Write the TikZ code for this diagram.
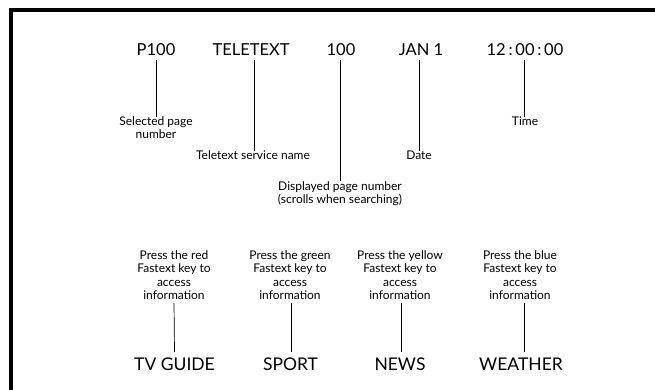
\documentclass[tikz,border=0pt]{standalone}
\usepackage{fontspec}
\setmainfont{Lato}
\begin{document}
\begin{tikzpicture}[x=1pt,y=-1pt,
  toptext/.style={inner sep=0pt,anchor=base,font=\fontsize{16.5}{18}\selectfont},
  lbl/.style={inner sep=0pt,anchor=north,align=center,font=\fontsize{12}{13}\selectfont},
  keytext/.style={inner sep=0pt,anchor=north,align=center,font=\fontsize{12}{13.4}\selectfont},
  bigtext/.style={inner sep=0pt,anchor=base,font=\fontsize{17.5}{20}\selectfont},
  conn/.style={draw=black,line width=0.7pt},
  frame/.style={draw=black,line width=4.6pt}]
\useasboundingbox (0,0) rectangle (655,389);
% frame
\coordinate (fTR) at (670,9.8);
\coordinate (fTL) at (10.8,9.8);
\coordinate (fBL) at (10.8,400);
\draw[frame] (fTR) -- (fTL) -- (fBL);
% top row
\node[toptext] (p100) at (156,55) {P100};
\node[toptext] (tele) at (251,55) {TELETEXT};
\node[toptext] (num) at (341,55) {100};
\node[toptext] (jan) at (421,55) {JAN 1};
\node[toptext] (time) at (525,55) {12\,:\,00\,:\,00};
% labels
\node[lbl] (selp) at (156,116.5) {Selected page\\number};
\node[lbl] (serv) at (253,150.5) {Teletext service name};
\node[lbl] (disp) at (340,181) {Displayed page number\\(scrolls when searching)};
\node[lbl] (date) at (419,150.5) {Date};
\node[lbl] (timel) at (525,116.5) {Time};
% connectors
\draw[conn] ([yshift=-5pt]p100.base) -- (selp.north);
\draw[conn] ([xshift=3pt,yshift=-5pt]tele.base) -- ([xshift=1pt]serv.north);
\draw[conn] ([xshift=-1pt,yshift=-5pt]num.base) -- (disp.north);
\draw[conn] ([xshift=-2pt,yshift=-5pt]jan.base) -- (date.north);
\draw[conn] ([xshift=-1pt,yshift=-5pt]time.base) -- ([xshift=-1pt]timel.north);
% bottom key texts
\node[keytext] (kred) at (174,250.5) {Press the red\\Fastext key to\\access\\information};
\node[keytext] (kgreen) at (290,250.5) {Press the green\\Fastext key to\\access\\information};
\node[keytext] (kyellow) at (400,250.5) {Press the yellow\\Fastext key to\\access\\information};
\node[keytext] (kblue) at (520,250.5) {Press the blue\\Fastext key to\\access\\information};
% bottom labels
\node[bigtext] (tvg) at (174.5,370) {TV GUIDE};
\node[bigtext] (sport) at (290.5,370) {SPORT};
\node[bigtext] (news) at (400,370) {NEWS};
\node[bigtext] (weather) at (521,370) {WEATHER};
% bottom connectors
\draw[conn] ([yshift=-3pt]kred.south) -- ([yshift=18pt]tvg.base);
\draw[conn] ([xshift=1pt,yshift=-3pt]kgreen.south) -- ([xshift=0.5pt,yshift=18pt]sport.base);
\draw[conn] ([xshift=1pt,yshift=-3pt]kyellow.south) -- ([xshift=1pt,yshift=18pt]news.base);
\draw[conn] ([xshift=4pt,yshift=-3pt]kblue.south) -- ([xshift=3pt,yshift=18pt]weather.base);
\end{tikzpicture}
\end{document}
